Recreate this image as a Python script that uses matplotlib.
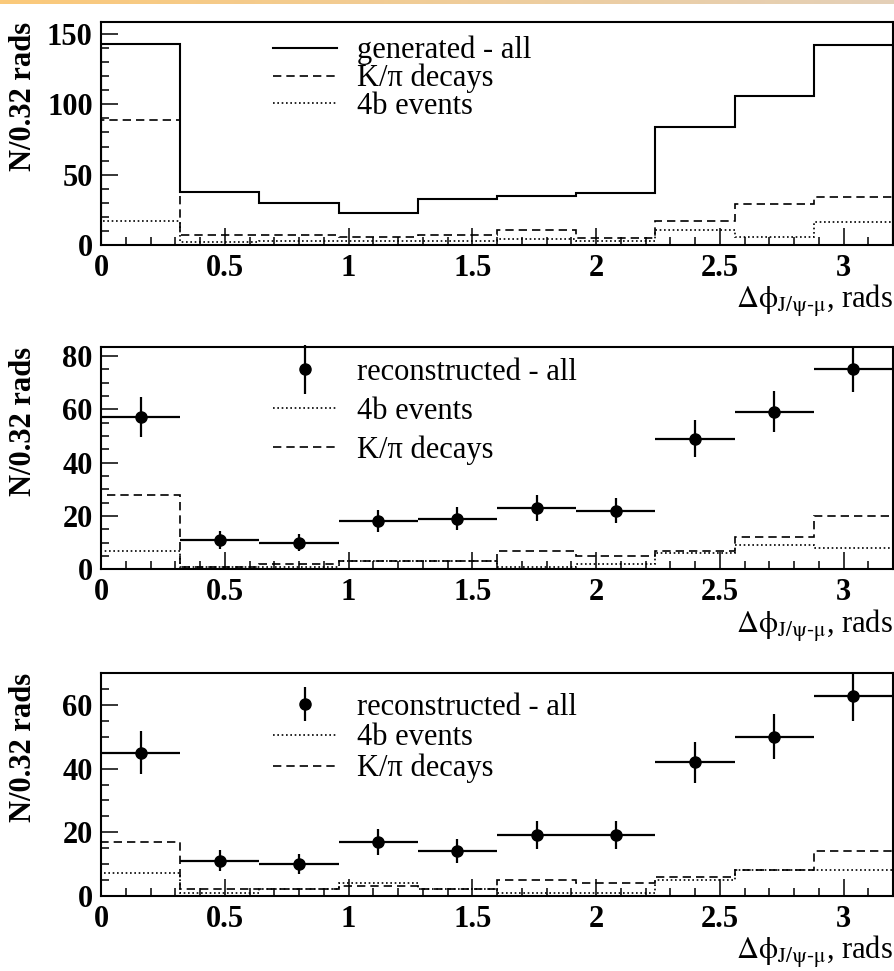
"""Delta-phi(J/psi, mu) distributions: generated and reconstructed, with K/pi and 4b components."""

import matplotlib

matplotlib.use("Agg")
import matplotlib.pyplot as plt
import numpy as np
from matplotlib.legend_handler import HandlerErrorbar
from matplotlib.lines import Line2D
from matplotlib.ticker import FormatStrFormatter, MultipleLocator

plt.rcParams["font.family"] = "serif"
plt.rcParams["font.serif"] = ["Liberation Serif", "DejaVu Serif"]
plt.rcParams["mathtext.fontset"] = "stix"

BIN_EDGES = np.round(np.arange(11) * 0.32, 2)

# top panel: generated sample
gen_all = [143, 38, 30, 23, 33, 35, 37, 84, 106, 142]
gen_kpi = [89, 7, 7, 6, 7, 11, 5, 17, 29, 34]
gen_4b = [17, 2, 3, 3, 3, 4, 3, 11, 6, 16]

# middle panel: reconstructed
reco1_all = [57, 11, 10, 18, 19, 23, 22, 49, 59, 75]
reco1_err = [7.5, 3.3, 3.2, 4.2, 4.4, 4.8, 4.7, 7.0, 7.7, 8.7]
reco1_4b = [7, 1, 1, 3, 3, 1, 2, 6, 9, 8]
reco1_kpi = [28, 1, 2, 3, 3, 7, 5, 7, 12, 20]

# bottom panel: reconstructed
reco2_all = [45, 11, 10, 17, 14, 19, 19, 42, 50, 63]
reco2_err = [6.7, 3.3, 3.2, 4.1, 3.7, 4.4, 4.4, 6.5, 7.1, 7.9]
reco2_4b = [7, 1, 2, 4, 2, 1, 1, 5, 8, 8]
reco2_kpi = [17, 2, 2, 3, 2, 5, 4, 6, 8, 14]

YLABEL = "N/0.32 rads"
XLABEL = r"$\Delta\mathrm{\phi}_{\mathrm{J/\psi\text{-}\mu}}$, rads"

DASHED = (0, (5, 3))
DOTTED = (0, (1, 1.6))
FS_TICK = 22
FS_TEXT = 22


def _frame(ax, ymax, ymajor, yminor):
    ax.set_xlim(0, 3.2)
    ax.set_ylim(0, ymax)
    ax.xaxis.set_major_locator(MultipleLocator(0.5))
    ax.xaxis.set_minor_locator(MultipleLocator(0.1))
    ax.yaxis.set_major_locator(MultipleLocator(ymajor))
    ax.yaxis.set_minor_locator(MultipleLocator(yminor))
    ax.xaxis.set_major_formatter(FormatStrFormatter("%g"))
    ax.yaxis.set_major_formatter(FormatStrFormatter("%g"))
    ax.tick_params(which="both", direction="in", top=False, right=False, width=1.1)
    ax.tick_params(which="major", length=12, labelsize=FS_TICK)
    ax.tick_params(which="minor", length=6)
    ax.tick_params(axis="x", pad=6.5)
    ax.tick_params(axis="y", pad=6)
    for lbl in ax.get_xticklabels() + ax.get_yticklabels():
        lbl.set_fontweight("bold")
    for sp in ax.spines.values():
        sp.set_linewidth(1.5)
    ax.set_ylabel(YLABEL, loc="top", fontsize=FS_TICK, fontweight="bold")
    ax.yaxis.set_label_coords(-0.08, 1.0)
    ax.set_xlabel(XLABEL, loc="right", fontsize=FS_TEXT, labelpad=0)


def _legend(ax, handles, labels, top, spacing, handler_map=None):
    ax.legend(
        handles, labels, loc="upper left", bbox_to_anchor=(0.217, top),
        frameon=False, borderpad=0, borderaxespad=0, handlelength=2.1,
        handletextpad=0.65, labelspacing=spacing, handler_map=handler_map,
        prop={"size": FS_TEXT, "weight": "normal"},
    )


def _reco(ax, values, errors, four_b, kpi, ymax, leg_top, spacing, bar_size):
    centers = (BIN_EDGES[:-1] + BIN_EDGES[1:]) / 2
    half = np.diff(BIN_EDGES) / 2
    ax.stairs(four_b, BIN_EDGES, color="black", lw=1.2, linestyle=DOTTED)
    ax.stairs(kpi, BIN_EDGES, color="black", lw=1.2, linestyle=DASHED)
    ax.errorbar(centers, values, xerr=half, fmt="none", ecolor="black", elinewidth=1.6)
    pts = ax.errorbar(
        centers, values, yerr=errors, fmt="o", color="black",
        markersize=8, elinewidth=1.6, capsize=0,
    )
    handles = [
        pts,
        Line2D([], [], color="black", lw=1.2, linestyle=DOTTED),
        Line2D([], [], color="black", lw=1.2, linestyle=DASHED),
    ]
    labels = ["reconstructed - all", "4b events", "K/\u03c0 decays"]
    _legend(ax, handles, labels, leg_top, spacing,
            handler_map={pts: HandlerErrorbar(yerr_size=bar_size)})
    _frame(ax, ymax, 20, 5)


fig = plt.figure(figsize=(8.94, 9.71), dpi=100)

# slide header strip
strip = fig.add_axes([0, 1 - 4 / 971, 1, 4 / 971])
grad = np.linspace(0, 1, 256)
left_c = np.array([251, 201, 122]) / 255
right_c = np.array([228, 208, 184]) / 255
strip.imshow(
    left_c[None, None, :] * (1 - grad)[None, :, None] + right_c[None, None, :] * grad[None, :, None],
    aspect="auto",
)
strip.set_axis_off()

left = 101 / 894
width = 792 / 894
ax1 = fig.add_axes([left, 1 - 245 / 971, width, 223 / 971])
ax2 = fig.add_axes([left, 1 - 569.3 / 971, width, 222 / 971])
ax3 = fig.add_axes([left, 1 - 895.7 / 971, width, 222.4 / 971])

ax1.stairs(gen_all, BIN_EDGES, color="black", lw=1.5)
ax1.stairs(gen_kpi, BIN_EDGES, color="black", lw=1.2, linestyle=DASHED)
ax1.stairs(gen_4b, BIN_EDGES, color="black", lw=1.2, linestyle=DOTTED)
_legend(
    ax1,
    [
        Line2D([], [], color="black", lw=1.5),
        Line2D([], [], color="black", lw=1.2, linestyle=DASHED),
        Line2D([], [], color="black", lw=1.2, linestyle=DOTTED),
    ],
    ["generated - all", "K/\u03c0 decays", "4b events"],
    0.938, -0.05,
)
_frame(ax1, 158.5, 50, 10)

_reco(ax2, reco1_all, reco1_err, reco1_4b, reco1_kpi, 83.2, 0.952, 0.32, 0.8)
_reco(ax3, reco2_all, reco2_err, reco2_4b, reco2_kpi, 70, 0.912, 0.05, 0.55)

fig.savefig("out.png", dpi=100)
